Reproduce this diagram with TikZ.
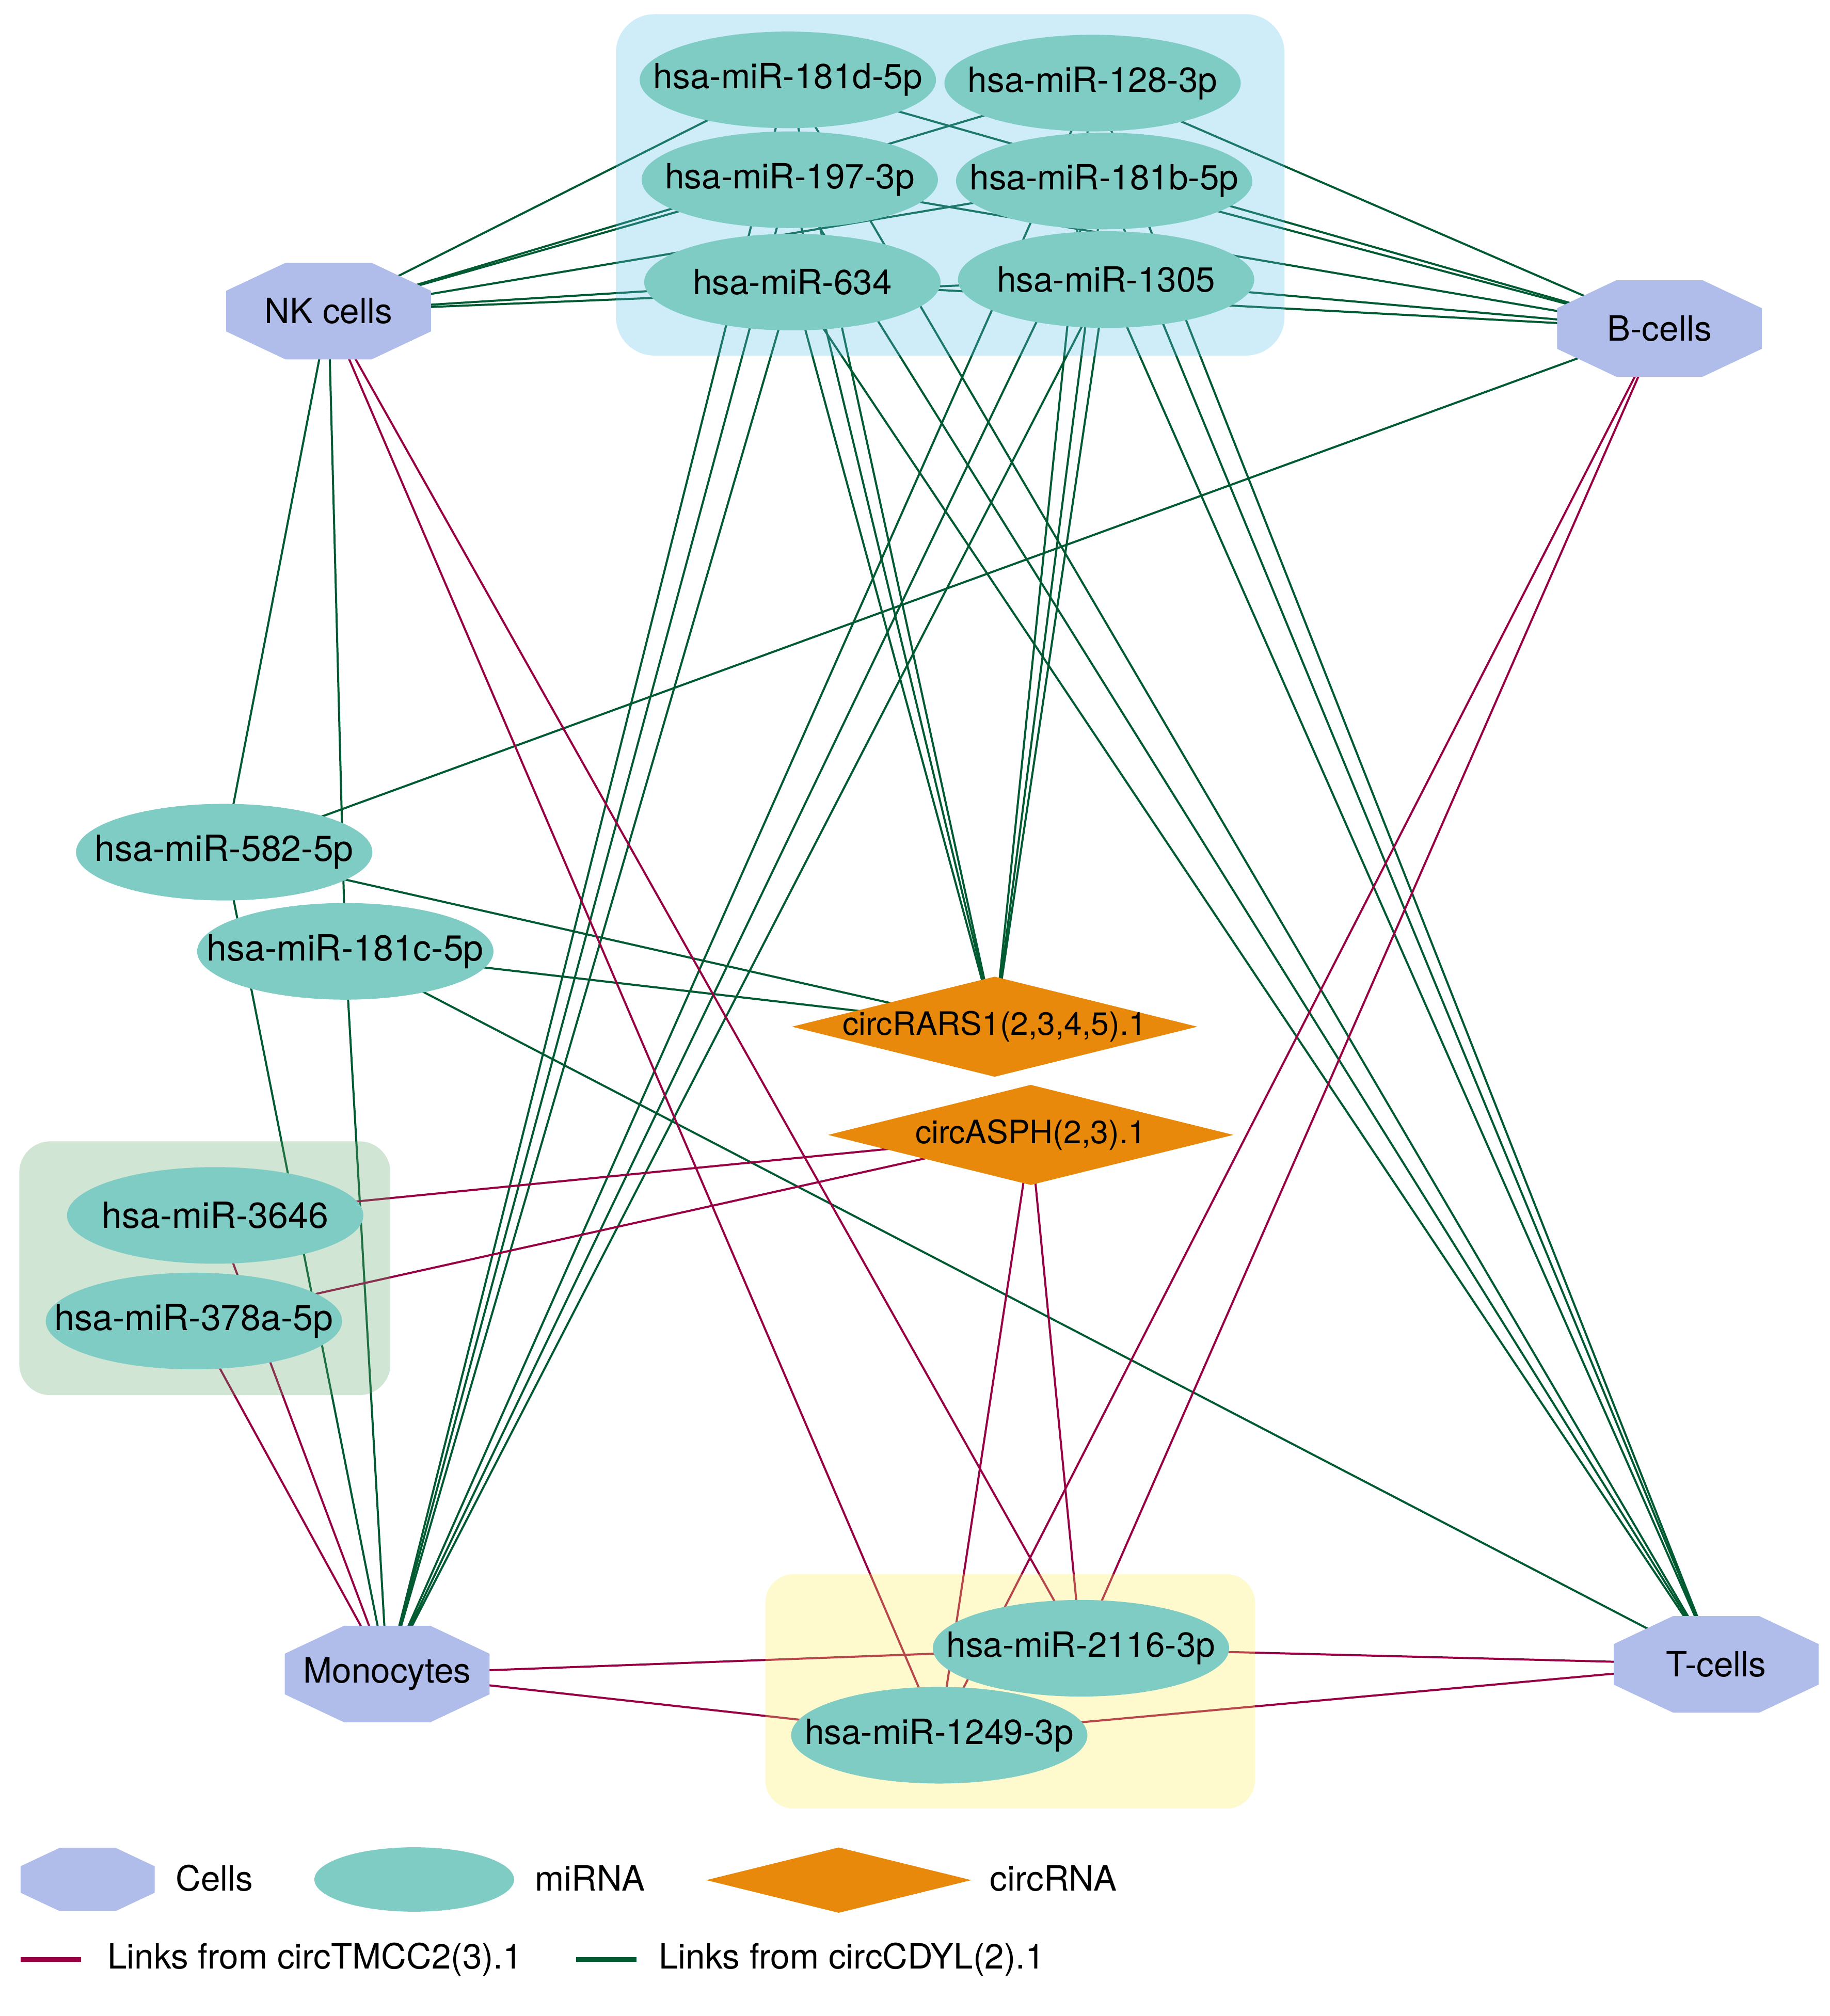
\documentclass[tikz,border=0pt]{standalone}
\usepackage{fontspec}
\setmainfont{TeX Gyre Heros}
\usetikzlibrary{shapes.geometric,calc}

\definecolor{cellfill}{RGB}{176,188,234}
\definecolor{mirfill}{RGB}{126,204,196}
\definecolor{circfill}{RGB}{232,137,12}
\definecolor{cdylgreen}{RGB}{0,90,50}
\definecolor{tmccred}{RGB}{153,0,68}
\definecolor{grpblue}{RGB}{95,192,235}
\definecolor{grpgreen}{RGB}{98,168,108}
\definecolor{grpyellow}{RGB}{255,238,88}

\pgfdeclarelayer{edges}
\pgfdeclarelayer{groups}
\pgfsetlayers{edges,groups,main}

\tikzset{
  cell/.style={rectangle, inner sep=0pt,
    minimum width=79.5pt, minimum height=37.5pt,
    font=\fontsize{13.5}{16}\selectfont,
    path picture={
      \path (path picture bounding box.north west) coordinate (octnw)
        (path picture bounding box.north east) coordinate (octne)
        (path picture bounding box.south east) coordinate (octse)
        (path picture bounding box.south west) coordinate (octsw);
      \fill[cellfill] ($(octnw)!0.29!(octne)$) -- ($(octne)!0.29!(octnw)$)
        -- ($(octne)!0.29!(octse)$) -- ($(octse)!0.29!(octne)$)
        -- ($(octse)!0.29!(octsw)$) -- ($(octsw)!0.29!(octse)$)
        -- ($(octsw)!0.29!(octnw)$) -- ($(octnw)!0.29!(octsw)$) -- cycle;
    }},
  mirna/.style={ellipse, fill=mirfill, inner sep=-14pt,
    minimum width=115pt, minimum height=37.5pt,
    font=\fontsize{13.5}{16}\selectfont},
  widemir/.style={mirna, font=\fontsize{14}{16}\selectfont},
  circrna/.style={diamond, aspect=4, fill=circfill, inner sep=-3pt,
    minimum width=157.5pt, minimum height=39pt,
    font=\fontsize{12.5}{15}\selectfont},
  cdyl/.style={draw=cdylgreen, line width=0.8pt},
  tmcc/.style={draw=tmccred, line width=0.8pt},
  grp/.style={fill opacity=0.3},
  legtext/.style={anchor=west, inner sep=0pt, font=\fontsize{13.5}{16}\selectfont}
}

\begin{document}
\begin{tikzpicture}[x=0.5pt,y=0.5pt,yscale=-1,xscale=1]
\useasboundingbox (0,0) rectangle (1420,1565);

% Cells
\node[cell] (nk) at (255,241.5) {NK cells};
\node[cell] (bcell) at (1288,255) {B-cells};
\node[cell] (mono) at (300.5,1299.5) {Monocytes};
\node[cell] (tcell) at (1332,1292) {T-cells};

% miRNA, top group
\node[mirna] (m181d) at (611.5,62) {hsa-miR-181d-5p};
\node[mirna] (m128) at (848,64.5) {hsa-miR-128-3p};
\node[mirna] (m197) at (613,139.5) {hsa-miR-197-3p};
\node[mirna] (m181b) at (857,140.5) {hsa-miR-181b-5p};
\node[mirna] (m634) at (615,219) {hsa-miR-634};
\node[mirna] (m1305) at (858.5,217) {hsa-miR-1305};

% miRNA, left side
\node[widemir] (m582) at (174,661.5) {hsa-miR-582-5p};
\node[widemir] (m181c) at (268,738.5) {hsa-miR-181c-5p};
\node[widemir] (m3646) at (167,943.5) {hsa-miR-3646};
\node[widemir] (m378a) at (150.5,1025.5) {hsa-miR-378a-5p};

% miRNA, bottom group
\node[mirna] (m2116) at (839,1279.5) {hsa-miR-2116-3p};
\node[mirna] (m1249) at (729,1347) {hsa-miR-1249-3p};

% circRNA
\node[circrna] (rars) at (772,797) {circRARS1(2,3,4,5).1};
\node[circrna] (asph) at (800,881) {circASPH(2,3).1};

% Groups
\begin{pgfonlayer}{groups}
\fill[grp, grpblue, rounded corners=15pt] (478,11) rectangle (997,276);
\fill[grp, grpgreen, rounded corners=12pt] (15,886) rectangle (303,1083);
\fill[grp, grpyellow, rounded corners=11pt] (594,1222) rectangle (974,1404);
\end{pgfonlayer}

% Links from circCDYL(2).1
\begin{pgfonlayer}{edges}
\draw[cdyl] (m181d.center) -- (nk.center) (m181d.center) -- (bcell.center)
  (m181d.center) -- (mono.center) (m181d.center) -- (tcell.center)
  (m181d.center) -- (rars.center);
\draw[cdyl] (m128.center) -- (nk.center) (m128.center) -- (bcell.center)
  (m128.center) -- (mono.center) (m128.center) -- (tcell.center)
  (m128.center) -- (rars.center);
\draw[cdyl] (m197.center) -- (nk.center) (m197.center) -- (bcell.center)
  (m197.center) -- (mono.center) (m197.center) -- (tcell.center)
  (m197.center) -- (rars.center);
\draw[cdyl] (m181b.center) -- (nk.center) (m181b.center) -- (bcell.center)
  (m181b.center) -- (mono.center) (m181b.center) -- (tcell.center)
  (m181b.center) -- (rars.center);
\draw[cdyl] (m634.center) -- (nk.center) (m634.center) -- (bcell.center)
  (m634.center) -- (mono.center) (m634.center) -- (tcell.center)
  (m634.center) -- (rars.center);
\draw[cdyl] (m1305.center) -- (nk.center) (m1305.center) -- (bcell.center)
  (m1305.center) -- (mono.center) (m1305.center) -- (tcell.center)
  (m1305.center) -- (rars.center);
\draw[cdyl] (m582.center) -- (nk.center) (m582.center) -- (bcell.center)
  (m582.center) -- (mono.center) (m582.center) -- (rars.center);
\draw[cdyl] (m181c.center) -- (nk.center) (m181c.center) -- (tcell.center)
  (m181c.center) -- (mono.center) (m181c.center) -- (rars.center);

% Links from circTMCC2(3).1
\draw[tmcc] (m2116.center) -- (nk.center) (m2116.center) -- (bcell.center)
  (m2116.center) -- (mono.center) (m2116.center) -- (tcell.center)
  (m2116.center) -- (asph.center);
\draw[tmcc] (m1249.center) -- (nk.center) (m1249.center) -- (bcell.center)
  (m1249.center) -- (mono.center) (m1249.center) -- (tcell.center)
  (m1249.center) -- (asph.center);
\draw[tmcc] (m3646.center) -- (mono.center) (m3646.center) -- (asph.center);
\draw[tmcc] (m378a.center) -- (mono.center) (m378a.center) -- (asph.center);
\end{pgfonlayer}

% Legend
\node[cell, minimum width=52pt, minimum height=24.5pt] (legcell) at (68,1459) {};
\node[legtext] (legcelltxt) at (136,1458) {Cells};
\node[mirna, inner sep=0pt, minimum width=77.5pt, minimum height=25pt] (legmir) at (321.5,1459) {};
\node[legtext] (legmirtxt) at (415,1458) {miRNA};
\node[circrna, inner sep=0pt, minimum width=103pt, minimum height=25.5pt] (legcirc) at (651,1459.5) {};
\node[legtext] (legcirctxt) at (768,1458) {circRNA};

\coordinate (tmccA) at (16,1521);
\coordinate (tmccB) at (63,1521);
\draw[tmcc, line width=1.8pt] (tmccA) -- (tmccB);
\node[legtext] (legtmcc) at (83,1521) {Links from circTMCC2(3).1};
\coordinate (cdylA) at (447,1521);
\coordinate (cdylB) at (494,1521);
\draw[cdyl, line width=1.8pt] (cdylA) -- (cdylB);
\node[legtext] (legcdyl) at (511,1521) {Links from circCDYL(2).1};

\end{tikzpicture}
\end{document}
